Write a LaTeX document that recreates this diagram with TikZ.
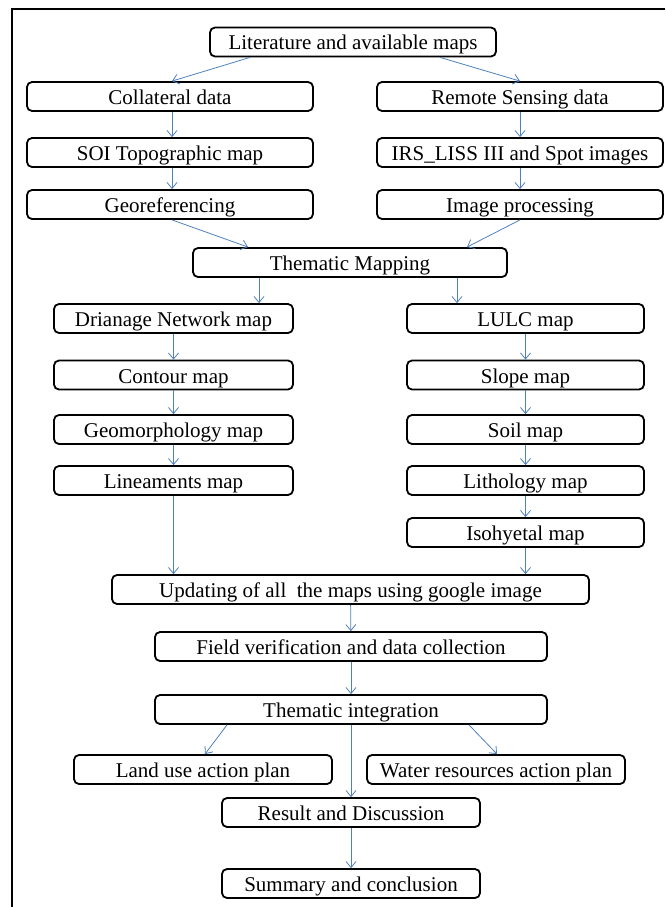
\documentclass[tikz,border=0pt]{standalone}
\usepackage{fontspec}
\setmainfont{Liberation Serif}
\usetikzlibrary{arrows.meta}
\definecolor{flowblue}{RGB}{79,129,189}

\begin{document}
\begin{tikzpicture}[x=1pt, y=-1pt, ->, >={Straight Barb[length=6pt, width=10pt]},
    main/.style = {draw, rounded corners=5pt, line width=1.8pt, minimum height=29pt,
        inner sep=0pt, text height=16pt, text depth=0pt, font=\fontsize{21}{24}\selectfont},
    flow/.style = {draw=flowblue, line width=0.8pt}]
    \useasboundingbox (0,0) rectangle (665,907);
    \draw[-, line width=1.8pt] (665,9) -- (12,9) -- (12,907);

    % Nodes

    \node[main, minimum width=286] (lit) at (353, 42) {Literature and available maps};
    \node[main, minimum width=286] (coll) at (170, 96.5) {Collateral data};
    \node[main, minimum width=286] (rs) at (520, 96.5) {Remote Sensing data};
    \node[main, minimum width=286] (soi) at (170, 152.5) {SOI Topographic map};
    \node[main, minimum width=286] (irs) at (520, 152.5) {IRS\_LISS III and Spot images};
    \node[main, minimum width=286] (geo) at (170, 204.5) {Georeferencing};
    \node[main, minimum width=286] (imp) at (520, 204.5) {Image processing};
    \node[main, minimum width=314] (tm) at (350, 262.5) {Thematic Mapping};

    \node[main, minimum width=239] (dn) at (173.5, 318.5) {Drianage Network map};
    \node[main, minimum width=239] (con) at (173.5, 375) {Contour map};
    \node[main, minimum width=239] (geom) at (173.5, 429.5) {Geomorphology map};
    \node[main, minimum width=239] (lin) at (173.5, 480.5) {Lineaments map};

    \node[main, minimum width=237] (lulc) at (525.5, 318.5) {LULC map};
    \node[main, minimum width=237] (slo) at (525.5, 375) {Slope map};
    \node[main, minimum width=237] (soil) at (525.5, 429.5) {Soil map};
    \node[main, minimum width=237] (lith) at (525.5, 480.5) {Lithology map};
    \node[main, minimum width=237] (iso) at (525.5, 532.5) {Isohyetal map};

    \node[main, minimum width=477] (upd) at (350.5, 589.5) {Updating of all~ the maps using google image};
    \node[main, minimum width=392] (fv) at (351, 646.5) {Field verification and data collection};
    \node[main, minimum width=392] (ti) at (351, 709.5) {Thematic integration};
    \node[main, minimum width=258] (lu) at (203, 769.5) {Land use action plan};
    \node[main, minimum width=258] (wr) at (496, 769.5) {Water resources action plan};
    \node[main, minimum width=258] (rd) at (351, 812.5) {Result and Discussion};
    \node[main, minimum width=258] (sc) at (351, 883.5) {Summary and conclusion};

    % Edges

    \draw[flow] ([xshift=-103]lit.south) to ([xshift=2]coll.north);
    \draw[flow] ([xshift=87]lit.south) to (rs.north);
    \draw[flow] ([xshift=2]coll.south) to ([xshift=2]soi.north);
    \draw[flow] ([xshift=2]soi.south) to ([xshift=2]geo.north);
    \draw[flow] (rs) to (irs);
    \draw[flow] (irs) to (imp);
    \draw[flow] ([xshift=2]geo.south) to ([xshift=-102]tm.north);
    \draw[flow] (imp.south) to ([xshift=117]tm.north);

    \draw[flow] ([xshift=-91]tm.south) to ([xshift=-91]tm.south |- dn.north);
    \draw[flow] ([xshift=107]tm.south) to ([xshift=107]tm.south |- lulc.north);
    \draw[flow] (dn) to (con);
    \draw[flow] (con) to (geom);
    \draw[flow] (geom) to (lin);
    \draw[flow] (lin.south) to (lin.south |- upd.north);
    \draw[flow] (lulc) to (slo);
    \draw[flow] (slo) to (soil);
    \draw[flow] (soil) to (lith);
    \draw[flow] (lith) to (iso);
    \draw[flow] (iso.south) to (iso.south |- upd.north);

    \draw[flow] (upd) to (fv);
    \draw[flow] (fv) to (ti);
    \draw[flow] ([xshift=-124]ti.south) to ([xshift=2]lu.north);
    \draw[flow] ([xshift=118]ti.south) to ([xshift=1]wr.north);
    \draw[flow] (ti) to (rd);
    \draw[flow] (rd) to (sc);

\end{tikzpicture}
\end{document}
